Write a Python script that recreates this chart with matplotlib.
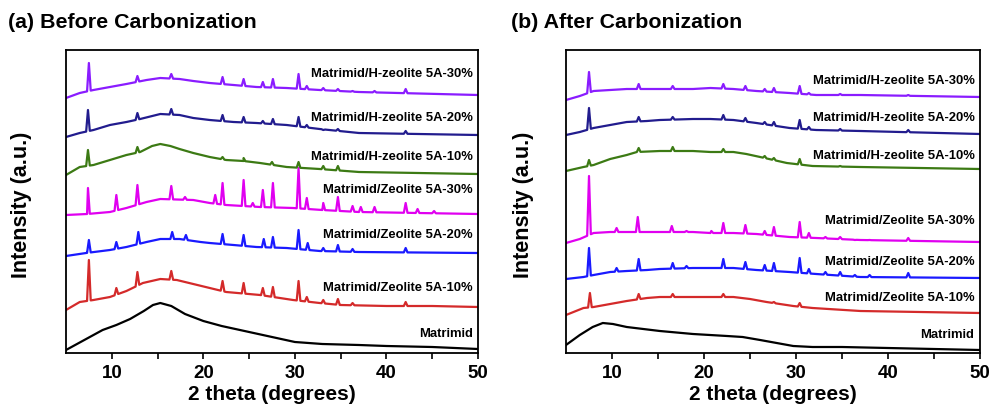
import numpy as np
from matplotlib import pyplot

pyplot.rcParams['font.family'] = ['Liberation Sans', 'DejaVu Sans']
pyplot.rcParams['font.weight'] = 'bold'

# ---- (a) before carbonization: baseline points and peak tops (intensity, a.u.)
a_matrimid_x = [5, 7, 9, 10.5, 12, 13.5, 14.5, 15.3, 16.5, 18, 20, 22, 25, 28, 30, 33, 37, 40, 45, 50]
a_matrimid_y = [3, 13, 23, 28, 34, 42, 48, 50, 47, 39, 32, 27, 21, 15, 11, 9, 8, 7, 6, 4]

a_z10_x = [5, 6.5, 8, 9.8, 11.6, 13.4, 15.3, 17.1, 18.9, 20.7, 22.5, 26.2, 29.8, 32.7, 35, 40, 45, 50]
a_z10_y = [43, 51, 53, 56, 62, 70, 74, 73, 69, 65, 61, 58, 53, 50, 48, 47, 47, 46]
a_z10_px = [7.5, 10.5, 12.8, 16.5, 22.1, 24.4, 26.5, 27.6, 30.4, 31.3, 33.1, 34.7, 36.3, 42.1]
a_z10_py = [93, 65, 81, 82, 72, 70, 65, 66, 72, 56, 53, 54, 50, 51]

a_z20_x = [5, 7.2, 9.8, 11.6, 13.8, 15.3, 17.4, 19.7, 20.7, 23.3, 25.8, 29.1, 32.7, 37, 50]
a_z20_y = [97, 100, 103, 106, 111, 114, 114, 111, 110, 108, 106, 105, 102, 101, 100]
a_z20_px = [7.5, 10.5, 12.9, 16.6, 18.1, 22.1, 24.4, 26.6, 27.6, 30.4, 31.4, 33.1, 34.7, 36.3, 42.1]
a_z20_py = [113, 111, 121, 121, 118, 119, 118, 114, 116, 123, 110, 105, 108, 104, 105]

a_z30_x = [5, 7.3, 9.8, 11.6, 13.8, 15.3, 18.9, 20.7, 22.5, 26.2, 29.8, 33, 37, 50]
a_z30_y = [138, 139, 141, 145, 151, 154, 153, 150, 148, 146, 145, 143, 141, 139]
a_z30_px = [7.4, 10.5, 12.8, 16.5, 18.0, 21.3, 22.1, 24.4, 25.4, 26.5, 27.6, 30.4, 31.3, 33.1,
            34.7, 36.3, 37.2, 38.7, 42.1, 43.4, 45.2]
a_z30_py = [165, 158, 168, 167, 156, 158, 170, 173, 150, 163, 170, 185, 155, 150,
            156, 147, 146, 146, 150, 144, 142]

a_h10_x = [5, 6.5, 8, 9.8, 11.6, 13.1, 14.4, 15.3, 16.4, 17.4, 18.9, 20.7, 22.5, 24.4, 26.2, 29.1, 32.7, 37, 50]
a_h10_y = [178, 186, 188, 193, 198, 201, 207, 209, 207, 204, 200, 196, 193, 192, 190, 186, 184, 181, 179]
a_h10_px = [7.4, 12.8, 22.1, 24.4, 27.5, 30.4, 33.1, 34.7]
a_h10_py = [203, 206, 196, 195, 191, 191, 187, 187]

a_h20_x = [5, 6.5, 8, 9.8, 11.6, 13.1, 15.3, 17.4, 18.9, 20.7, 23.3, 25.8, 29.1, 32.7, 37, 50]
a_h20_y = [216, 220, 223, 228, 231, 234, 239, 238, 235, 233, 231, 230, 228, 224, 220, 218]
a_h20_px = [7.4, 12.8, 16.5, 22.1, 24.4, 26.5, 27.6, 30.4, 31.3, 33.1, 34.7, 42.1]
a_h20_py = [243, 240, 244, 238, 236, 232, 234, 236, 228, 223, 224, 222]

a_h30_x = [5, 6.5, 8, 9.8, 11.6, 13.8, 15.3, 17.4, 18.9, 20.7, 23.3, 25.8, 29.1, 32.7, 37, 50]
a_h30_y = [255, 260, 263, 266, 269, 273, 275, 274, 272, 270, 268, 266, 265, 263, 261, 258]
a_h30_px = [7.5, 12.8, 16.5, 22.1, 24.4, 26.5, 27.6, 30.4, 31.3, 33.1, 34.7, 36.3, 38.7, 42.1]
a_h30_py = [290, 277, 279, 276, 274, 271, 274, 279, 267, 265, 264, 262, 262, 264]

# ---- (b) after carbonization
b_matrimid_x = [5, 6.5, 7.9, 9.0, 10.1, 11.6, 13.4, 15.2, 18.8, 22.5, 24.2, 26.1, 27.9, 29.7, 31.8, 35, 40, 50]
b_matrimid_y = [8, 18, 26, 30, 29, 26, 24, 22, 19, 17, 16, 13, 10, 7, 6, 6, 5, 3]

b_z10_x = [5, 6.9, 8.0, 9.8, 11.6, 13.8, 15.2, 18.8, 20.7, 23.2, 25.0, 26.8, 29.7, 31.8, 37, 50]
b_z10_y = [38, 45, 46, 49, 52, 55, 56, 56, 56, 56, 54, 51, 47, 45, 42, 40]
b_z10_px = [7.6, 12.9, 16.6, 22.1, 27.6, 30.4]
b_z10_py = [60, 59, 59, 59, 51, 50]

b_z20_x = [5, 6.9, 8.0, 9.8, 11.6, 13.8, 15.2, 18.8, 20.7, 23.2, 25.7, 29.3, 32.2, 37, 50]
b_z20_y = [74, 76, 78, 81, 82, 83, 84, 85, 85, 85, 83, 81, 79, 76, 75]
b_z20_px = [7.5, 10.5, 12.9, 16.6, 18.1, 22.1, 24.5, 26.6, 27.6, 30.4, 31.4, 33.2, 34.8, 36.4, 38.0, 42.2]
b_z20_py = [105, 85, 94, 90, 87, 94, 91, 88, 90, 95, 84, 81, 81, 78, 78, 80]

b_z30_x = [5, 6.5, 8.0, 9.8, 11.6, 13.8, 15.2, 18.8, 20.7, 23.2, 25.7, 29.3, 32.2, 37, 50]
b_z30_y = [110, 114, 120, 121, 121, 121, 121, 121, 120, 120, 119, 116, 115, 113, 111]
b_z30_px = [7.5, 10.5, 12.8, 16.5, 18.1, 20.8, 22.1, 24.5, 26.6, 27.6, 30.4, 31.4, 33.2, 34.8, 36.4, 38.0, 42.2]
b_z30_py = [177, 125, 136, 127, 122, 122, 130, 128, 122, 126, 131, 120, 116, 116, 113, 113, 115]

b_h10_x = [5, 6.9, 8.0, 9.8, 11.6, 12.7, 15.2, 18.8, 20.7, 23.2, 24.6, 26.1, 29.0, 31.8, 37, 50]
b_h10_y = [182, 186, 188, 194, 198, 201, 202, 202, 201, 201, 199, 196, 190, 187, 186, 184]
b_h10_px = [7.5, 12.9, 16.6, 22.1, 26.6, 27.6, 30.4, 34.8]
b_h10_py = [193, 205, 206, 204, 197, 195, 194, 187]

b_h20_x = [5, 6.5, 8.0, 9.8, 11.6, 13.8, 15.2, 18.8, 20.7, 23.2, 25.7, 29.3, 32.2, 37, 50]
b_h20_y = [218, 221, 225, 228, 231, 232, 233, 234, 234, 233, 230, 225, 223, 222, 219]
b_h20_px = [7.5, 12.9, 16.6, 22.1, 24.5, 26.6, 27.6, 30.4, 31.4, 34.8, 42.2]
b_h20_py = [245, 236, 236, 238, 235, 231, 231, 233, 226, 224, 223]

b_h30_x = [5, 6.5, 8.0, 9.8, 11.6, 13.8, 15.2, 18.8, 20.7, 23.2, 25.7, 29.3, 32.2, 37, 50]
b_h30_y = [253, 257, 262, 263, 264, 264, 264, 264, 265, 264, 262, 260, 258, 258, 256]
b_h30_px = [7.5, 12.9, 16.6, 22.1, 24.5, 26.6, 27.6, 30.4, 31.4, 33.2, 34.8, 42.2]
b_h30_py = [281, 269, 267, 269, 267, 264, 265, 267, 260, 258, 259, 258]

labels = ['Matrimid', 'Matrimid/Zeolite 5A-10%', 'Matrimid/Zeolite 5A-20%', 'Matrimid/Zeolite 5A-30%',
          'Matrimid/H-zeolite 5A-10%', 'Matrimid/H-zeolite 5A-20%', 'Matrimid/H-zeolite 5A-30%']
colors = ['#000000', '#d42a2a', '#1a1aff', '#e000f0', '#3c7a14', '#221c8e', '#8a1cff']
a_label_y = [19, 65, 118, 163, 196, 235, 279]
b_label_y = [18, 55, 91, 132, 197, 235, 272]

a_curves = [(a_matrimid_x, a_matrimid_y, [], []),
            (a_z10_x, a_z10_y, a_z10_px, a_z10_py),
            (a_z20_x, a_z20_y, a_z20_px, a_z20_py),
            (a_z30_x, a_z30_y, a_z30_px, a_z30_py),
            (a_h10_x, a_h10_y, a_h10_px, a_h10_py),
            (a_h20_x, a_h20_y, a_h20_px, a_h20_py),
            (a_h30_x, a_h30_y, a_h30_px, a_h30_py)]
b_curves = [(b_matrimid_x, b_matrimid_y, [], []),
            (b_z10_x, b_z10_y, b_z10_px, b_z10_py),
            (b_z20_x, b_z20_y, b_z20_px, b_z20_py),
            (b_z30_x, b_z30_y, b_z30_px, b_z30_py),
            (b_h10_x, b_h10_y, b_h10_px, b_h10_py),
            (b_h20_x, b_h20_y, b_h20_px, b_h20_py),
            (b_h30_x, b_h30_y, b_h30_px, b_h30_py)]


def pattern(bx, by, px, py, w=0.2):
    # baseline polyline with each peak drawn as a narrow spike on top of it
    xs = list(bx)
    ys = list(by)
    for p, top in zip(px, py):
        foot = np.interp([p - w, p + w], bx, by)
        xs += [p - w, p, p + w]
        ys += [foot[0], top, foot[1]]
    order = np.argsort(xs, kind='stable')
    return np.array(xs)[order], np.array(ys)[order]


figure = pyplot.figure(figsize=(9.93, 4.16), dpi=100)
axis1 = figure.add_axes([66 / 993, 63 / 416, 412 / 993, 303 / 416])
axis2 = figure.add_axes([566 / 993, 63 / 416, 414 / 993, 303 / 416])

for axis, curves, label_y in [(axis1, a_curves, a_label_y), (axis2, b_curves, b_label_y)]:
    for (bx, by, px, py), col, lab, ly in zip(curves, colors, labels, label_y):
        xs, ys = pattern(bx, by, px, py)
        axis.plot(xs, ys, color=col, linewidth=1.6)
        axis.text(49.4, ly, lab, ha='right', va='center', fontsize=9.4, fontweight='bold')
    axis.set_xlim(5, 50)
    axis.set_ylim(0, 303)
    axis.set_yticks([])
    axis.set_xticks([10, 20, 30, 40, 50])
    axis.set_xticks([15, 25, 35, 45], minor=True)
    axis.tick_params(axis='x', which='both', direction='out', length=4, width=1.2, labelsize=13.5, pad=5)
    for lab in axis.get_xticklabels():
        lab.set_fontweight('bold')
    for s in axis.spines.values():
        s.set_linewidth(1.3)
    axis.set_xlabel('2 theta (degrees)', fontsize=15, fontweight='bold', labelpad=2)

figure.text(8 / 993, 1 - 22 / 416, '(a) Before Carbonization', fontsize=15.4, fontweight='bold', va='center')
figure.text(511 / 993, 1 - 22 / 416, '(b) After Carbonization', fontsize=15.4, fontweight='bold', va='center')
figure.text(22 / 993, 1 - 205 / 416, 'Intensity (a.u.)', fontsize=15.5, fontweight='bold',
            rotation=90, ha='center', va='center')
figure.text(523 / 993, 1 - 205 / 416, 'Intensity (a.u.)', fontsize=15.5, fontweight='bold',
            rotation=90, ha='center', va='center')

pyplot.savefig('out.png', dpi=100)
